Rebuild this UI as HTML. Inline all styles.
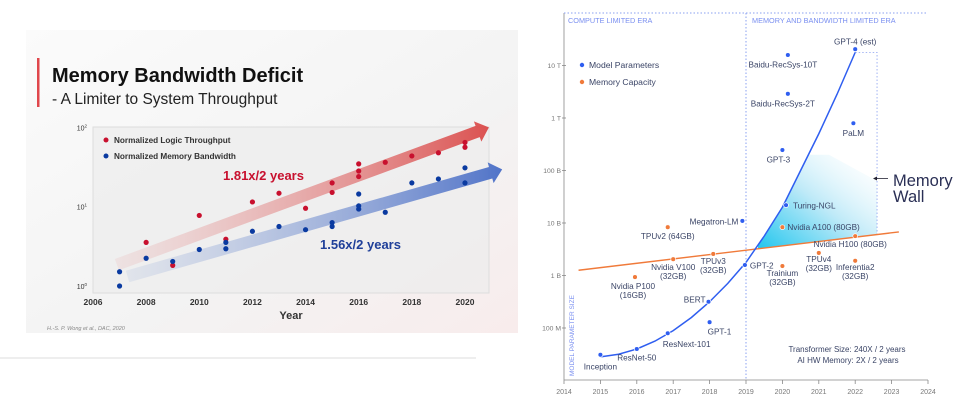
<!DOCTYPE html>
<html><head><meta charset="utf-8"><style>
html,body{margin:0;padding:0;background:#fff;width:966px;height:409px;overflow:hidden}
svg{display:block;font-family:"Liberation Sans",sans-serif}
</style></head><body>
<svg id="svg" width="966" height="409" viewBox="0 0 966 409" xmlns="http://www.w3.org/2000/svg">
<defs>
<linearGradient id="slideBg" x1="0" y1="0" x2="1" y2="1">
<stop offset="0" stop-color="#fbfbfb"/><stop offset="0.6" stop-color="#f3f3f3"/><stop offset="1" stop-color="#f8ecec"/></linearGradient>
<linearGradient id="redArr" x1="0" y1="0" x2="1" y2="0"><stop offset="0" stop-color="#e59a9a" stop-opacity="0.15"/><stop offset="1" stop-color="#d9403f" stop-opacity="0.9"/></linearGradient>
<linearGradient id="blueArr" x1="0" y1="0" x2="1" y2="0"><stop offset="0" stop-color="#8fa6d6" stop-opacity="0.15"/><stop offset="1" stop-color="#3f66c4" stop-opacity="0.9"/></linearGradient>
<linearGradient id="wallGrad" x1="0" y1="1" x2="1" y2="0"><stop offset="0" stop-color="#22c6ee"/><stop offset="0.5" stop-color="#bfeaf8"/><stop offset="1" stop-color="#ffffff" stop-opacity="0.2"/></linearGradient>
</defs>
<rect x="26" y="30" width="492" height="303" fill="url(#slideBg)"/>
<line x1="0" y1="358" x2="476" y2="358" stroke="#ddd" stroke-width="1"/>
<rect x="37" y="58" width="2.5" height="49" fill="#e0474c"/>
<text x="52" y="82" font-size="20" font-weight="bold" fill="#111">Memory Bandwidth Deficit</text>
<text x="52" y="104" font-size="15.5" fill="#222">- A Limiter to System Throughput</text>
<rect x="93" y="127" width="396" height="166" fill="#ececec" fill-opacity="0.7" stroke="#ddd"/>
<g id="left"></g>
<text x="47" y="330" font-size="5.5" font-style="italic" fill="#888">H.-S. P. Wong et al., DAC, 2020</text>
<g id="right"></g>
</svg>
<script>
// ---------- Left chart data ----------
const logicYears = [2008,2009,2010,2011,2012,2013,2014,2015,2015,2016,2016,2016,2017,2018,2019,2020,2020];
const logicExp   = [0.55,0.26,0.89,0.59,1.06,1.17,0.98,1.30,1.18,1.54,1.45,1.38,1.56,1.64,1.68,1.81,1.75];
const memYears = [2007,2007,2008,2009,2010,2011,2011,2012,2013,2014,2015,2015,2016,2016,2016,2017,2018,2019,2020,2020];
const memExp   = [0.18,0.00,0.35,0.31,0.46,0.47,0.55,0.69,0.75,0.71,0.80,0.75,1.16,1.01,0.97,0.93,1.30,1.35,1.49,1.30];
const leftXTicks = [2006,2008,2010,2012,2014,2016,2018,2020];
const leftYTicks = [0,1,2];

// ---------- Right chart data ----------
const modelNames = ["Inception","ResNet-50","ResNext-101","BERT","GPT-1","GPT-2","Megatron-LM","Turing-NGL","GPT-3","Baidu-RecSys-2T","Baidu-RecSys-10T","PaLM","GPT-4 (est)"];
const modelYears = [2015,2016,2016.85,2017.97,2018,2018.97,2018.9,2020.1,2020,2020.15,2020.15,2021.95,2022];
const modelExp   = [7.49,7.6,7.9,8.5,8.11,9.2,10.04,10.34,11.39,12.46,13.2,11.9,13.31];
const memNames = ["Nvidia P100 (16GB)","TPUv2 (64GB)","Nvidia V100 (32GB)","TPUv3 (32GB)","Nvidia A100 (80GB)","Trainium (32GB)","TPUv4 (32GB)","Nvidia H100 (80GB)","Inferentia2 (32GB)"];
const memCapYears = [2015.95,2016.85,2017,2018.1,2020,2020,2021,2022,2022];
const memCapExp   = [8.97,9.92,9.31,9.41,9.92,9.18,9.43,9.75,9.28];
const trendYears = [2015,2015.5,2016,2016.5,2017,2017.5,2018,2018.5,2019,2019.5,2020,2020.5,2021,2021.5,2022];
const trendExp   = [7.45,7.5,7.6,7.75,7.95,8.2,8.5,8.85,9.25,9.75,10.3,11.0,11.7,12.45,13.25];
const hwLineYears = [2014.4,2023.2];
const hwLineExp   = [9.1,9.83];
const rightXTicks = [2014,2015,2016,2017,2018,2019,2020,2021,2022,2023,2024];
const rightYTicks = [8,9,10,11,12,13];
const rightYTickLabels = ["100 M","1 B","10 B","100 B","1 T","10 T"];

const NS="http://www.w3.org/2000/svg";
function mk(tag,attrs,parent,txt){const e=document.createElementNS(NS,tag);for(const k in attrs)e.setAttribute(k,attrs[k]);if(txt!==undefined)e.textContent=txt;parent.appendChild(e);return e;}

// Left axes
const lx = y => 93 + (y-2006)*26.57;
const ly = e => 286 - e*79.3;
const L = document.getElementById('left');
leftXTicks.forEach(t=>{
  const el=mk('text',{x:lx(t),y:305,'font-size':8.5,'font-weight':'bold','text-anchor':'middle',fill:'#333'},L,String(t));
  
  
});
leftYTicks.forEach(t=>{
  const el=mk('text',{x:87,y:ly(t)+3,'font-size':7,'text-anchor':'end',fill:'#333'},L,'10');
  
  
  mk('tspan',{'font-size':4.5,dy:-3},el,String(t));
});
{const el=mk('text',{x:291,y:319,'font-size':11,'font-weight':'bold','text-anchor':'middle',fill:'#333'},L,'Year');

}
function arrow(x1,y1,x2,y2,w,fill,name){
  const a=Math.atan2(y2-y1,x2-x1),dx=Math.cos(a),dy=Math.sin(a),nx=-dy,ny=dx,h=12,hw=w*0.9;
  const bx=x2-dx*h,by=y2-dy*h;
  const pts=[[x1+nx*w/2,y1+ny*w/2],[bx+nx*w/2,by+ny*w/2],[bx+nx*hw,by+ny*hw],[x2,y2],[bx-nx*hw,by-ny*hw],[bx-nx*w/2,by-ny*w/2],[x1-nx*w/2,y1-ny*w/2]];
  const el=mk('polygon',{points:pts.map(p=>p.join(',')).join(' '),fill:fill},L);
  
  
}
arrow(lx(2006.9),ly(0.27),lx(2020.9),ly(2.0),12,'url(#redArr)','logic-trend-arrow');
arrow(lx(2007.3),ly(0.12),lx(2021.4),ly(1.47),12,'url(#blueArr)','memory-trend-arrow');
logicYears.forEach((y,i)=>{
  const c=mk('circle',{cx:lx(y),cy:ly(logicExp[i]),r:2.6,fill:'#c8102e'},L);
  
  
});
memYears.forEach((y,i)=>{
  const c=mk('circle',{cx:lx(y),cy:ly(memExp[i]),r:2.6,fill:'#0a3aa0'},L);
  
  
});
[['#c8102e','Normalized Logic Throughput',140,'legend-entry-logic'],['#0a3aa0','Normalized Memory Bandwidth',156,'legend-entry-memory']].forEach(d=>{
  const g=mk('g',{},L);
  
  
  mk('circle',{cx:106,cy:d[2],r:2.5,fill:d[0]},g);
  mk('text',{x:114,y:d[2]+3,'font-size':8.2,'font-weight':'bold',fill:'#333'},g,d[1]);
});
{const el=mk('text',{x:223,y:180,'font-size':13,'font-weight':'bold',fill:'#c8102e'},L,'1.81x/2 years');

}
{const el=mk('text',{x:320,y:249,'font-size':13,'font-weight':'bold',fill:'#1f3f99'},L,'1.56x/2 years');

}

// Right axes
const rx = y => 564 + (y-2014)*36.4;
const ry = e => 380.5 - (e-7)*52.5;
const R = document.getElementById('right');
const blue='#2f5ef0', orange='#f07a3a', lbl='#3a4466';
const FS=8.2;
{const el=mk('line',{x1:564,y1:13,x2:564,y2:380,stroke:'#888','stroke-width':0.8},R);
}
{const el=mk('line',{x1:564,y1:380,x2:928,y2:380,stroke:'#888','stroke-width':0.8},R);
}
{const el=mk('line',{x1:564,y1:13,x2:926,y2:13,stroke:'#8aa0f0','stroke-width':1,'stroke-dasharray':'1.5,2'},R);
}
{const el=mk('line',{x1:rx(2019),y1:13,x2:rx(2019),y2:380,stroke:'#8aa0f0','stroke-width':1,'stroke-dasharray':'1.5,2'},R);
}
rightXTicks.forEach(t=>{
  mk('line',{x1:rx(t),y1:380,x2:rx(t),y2:384,stroke:'#888','stroke-width':0.8},R);
  const el=mk('text',{x:rx(t),y:394,'font-size':7,'text-anchor':'middle',fill:'#777'},R,String(t));
  
  
});
rightYTicks.forEach((t,i)=>{
  mk('line',{x1:562,y1:ry(t),x2:566,y2:ry(t),stroke:'#888','stroke-width':0.8},R);
  const el=mk('text',{x:561,y:ry(t)+2.5,'font-size':6.8,'text-anchor':'end',fill:'#777'},R,rightYTickLabels[i]);
  
  
});
{const el=mk('text',{x:0,y:0,'font-size':6.5,fill:'#7a8ff0',transform:'translate(574,376) rotate(-90)'},R,'MODEL PARAMETER SIZE');
}
{const el=mk('text',{x:568,y:23,'font-size':7.3,fill:'#7a8ff0'},R,'COMPUTE LIMITED ERA');
}
{const el=mk('text',{x:752,y:23,'font-size':7.3,fill:'#7a8ff0'},R,'MEMORY AND BANDWIDTH LIMITED ERA');
}
const hwAt = y => hwLineExp[0] + (y-hwLineYears[0])*(hwLineExp[1]-hwLineExp[0])/(hwLineYears[1]-hwLineYears[0]);
const trendAt = y => {for(let i=1;i<trendYears.length;i++){if(y<=trendYears[i]){const f=(y-trendYears[i-1])/(trendYears[i]-trendYears[i-1]);return trendExp[i-1]+f*(trendExp[i]-trendExp[i-1]);}}return trendExp[trendExp.length-1];};
{
  let pts=[];const x0=2019.33, xEnd=2022.6;
  for(let y=x0;y<=2021.3;y+=0.05){pts.push([rx(y),ry(Math.min(trendAt(y),11.3))]);}
  pts.push([rx(xEnd),ry(10.8)]);
  pts.push([rx(xEnd),ry(hwAt(xEnd))]);
  pts.push([rx(x0),ry(hwAt(x0))]);
  const el=mk('polygon',{points:pts.map(p=>p.join(',')).join(' '),fill:'url(#wallGrad)'},R);
  
}
{const el=mk('polyline',{points:[rx(2022),ry(13.25),rx(2022.6),ry(13.25),rx(2022.6),ry(hwAt(2022.6))].join(' '),fill:'none',stroke:'#8aa0f0','stroke-width':0.8,'stroke-dasharray':'1.5,2'},R);
}
{const el=mk('line',{x1:rx(hwLineYears[0]),y1:ry(hwLineExp[0]),x2:rx(hwLineYears[1]),y2:ry(hwLineExp[1]),stroke:orange,'stroke-width':1.4},R);
}
{const el=mk('polyline',{points:trendYears.map((y,i)=>rx(y)+','+ry(trendExp[i])).join(' '),fill:'none',stroke:blue,'stroke-width':1.5},R);
}
const modelLbl=[[0,12,'middle'],[0,9,'middle'],[-5,11,'start'],[-3,-2,'end'],[-2,10,'start'],[5,1,'start'],[-4,1,'end'],[7,1,'start'],[-4,10,'middle'],[-5,10,'middle'],[-5,10,'middle'],[0,10,'middle'],[0,-7,'middle']];
modelYears.forEach((y,i)=>{
  const cx=rx(y),cy=ry(modelExp[i]);
  const c=mk('circle',{cx:cx,cy:cy,r:2.4,fill:blue,stroke:'#fff','stroke-width':0.7},R);
  
  
  const o=modelLbl[i];
  const t=mk('text',{x:cx+o[0],y:cy+o[1]+2.5,'font-size':FS,'text-anchor':o[2],fill:lbl},R,modelNames[i]);
  
  
});
const memLbl=[[-2,9,'middle'],[0,9,'middle'],[0,8,'middle'],[0,7,'middle'],[5,0,'start'],[0,7,'middle'],[0,6,'middle'],[-5,8,'middle'],[0,6,'middle']];
memCapYears.forEach((y,i)=>{
  const cx=rx(y),cy=ry(memCapExp[i]);
  const c=mk('circle',{cx:cx,cy:cy,r:2.4,fill:orange,stroke:'#fff','stroke-width':0.7},R);
  
  
  const o=memLbl[i];
  const parts=memNames[i].split(' (');
  const single = (i===1||i===4||i===7);
  const t=mk('text',{x:cx+o[0],y:cy+o[1]+3,'font-size':FS,'text-anchor':o[2],fill:lbl},R);
  
  
  if(single){t.textContent=memNames[i];}
  else{mk('tspan',{x:cx+o[0]},t,parts[0]);mk('tspan',{x:cx+o[0],dy:9},t,'('+parts[1]);}
});
[[blue,'Model Parameters',65,'legend-entry-model-parameters'],[orange,'Memory Capacity',82,'legend-entry-memory-capacity']].forEach(d=>{
  const g=mk('g',{},R);
  
  
  mk('circle',{cx:582,cy:d[2],r:2.2,fill:d[0]},g);
  mk('text',{x:589,y:d[2]+3,'font-size':8.6,fill:lbl},g,d[1]);
});
{const el=mk('line',{x1:888,y1:178.5,x2:875,y2:178.5,stroke:'#223','stroke-width':0.8},R);

mk('polygon',{points:'873,178.5 877,176.5 877,180.5',fill:'#223'},R);}
{const el=mk('text',{x:893,y:186,'font-size':16.5,fill:'#2a2f55'},R);

mk('tspan',{x:893},el,'Memory');mk('tspan',{x:893,dy:16},el,'Wall');}
{const el=mk('text',{x:847,y:352,'font-size':8,'text-anchor':'middle',fill:lbl},R,'Transformer Size: 240X / 2 years');
}
{const el=mk('text',{x:848,y:363,'font-size':8,'text-anchor':'middle',fill:lbl},R,'AI HW Memory: 2X / 2 years');
}
</script>
</body></html>
